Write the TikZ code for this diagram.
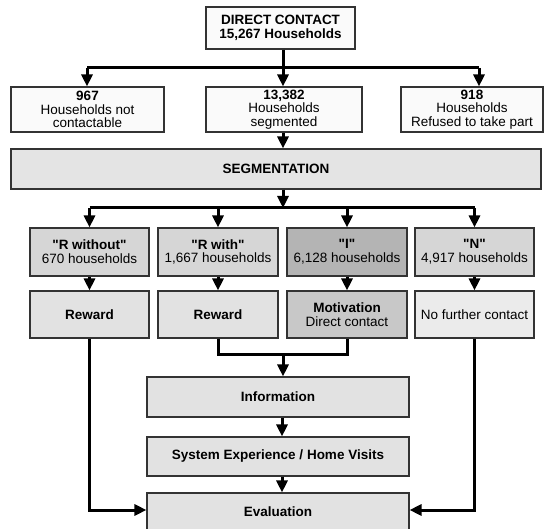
\documentclass[tikz,border=0pt]{standalone}
\usepackage{fontspec}
\setmainfont{Liberation Sans}[Ligatures=TeXOff]
\usetikzlibrary{arrows.meta}
\definecolor{fillwhite}{HTML}{FAFAFA}
\definecolor{fillseg}{HTML}{E4E4E4}
\definecolor{fillgroup}{HTML}{D6D6D6}
\definecolor{filli}{HTML}{B4B4B4}
\definecolor{fillmot}{HTML}{C8C8C8}
\definecolor{fillstep}{HTML}{E2E2E2}
\definecolor{fillnone}{HTML}{EBEBEB}
\definecolor{edge}{HTML}{333333}
\begin{document}
\begin{tikzpicture}[x=1pt,y=-1pt,
  box/.style={draw=edge,line width=1.1pt,rectangle,inner sep=0pt,align=center,
    font=\fontsize{13.5}{13.8}\selectfont},
  flow/.style={line width=3pt,line cap=butt,line join=miter},
  arr/.style={flow,-{Triangle[length=12pt,width=11pt]}}]
\useasboundingbox (0,0) rectangle (544,529);

% top level
\node[box,fill=fillwhite,minimum width=149pt,minimum height=42pt] (top) at (280.5,28)
  {\textbf{DIRECT CONTACT}\\\textbf{15,267 Households}};
\node[box,fill=fillwhite,minimum width=153pt,minimum height=45pt] (nc) at (87.5,109.5)
  {\textbf{967}\\Households not\\contactable};
\node[box,fill=fillwhite,minimum width=156pt,minimum height=45pt] (sg) at (284,109.5)
  {\textbf{13,382}\\Households\\segmented};
\node[box,fill=fillwhite,minimum width=142pt,minimum height=45pt] (rf) at (472,109.5)
  {\textbf{918}\\Households\\Refused to take part};

\node[box,fill=fillseg,minimum width=530pt,minimum height=40pt] (segm) at (276,169)
  {\textbf{SEGMENTATION}};

% segments
\node[box,fill=fillgroup,minimum width=119pt,minimum height=48pt] (rwo) at (89.5,252)
  {\textbf{"R without"}\\670 households};
\node[box,fill=fillgroup,minimum width=120pt,minimum height=48pt] (rwi) at (218,252)
  {\textbf{"R with"}\\1,667 households};
\node[box,fill=filli,minimum width=120pt,minimum height=48pt] (ii) at (347,252)
  {\textbf{"I"}\\6,128 households};
\node[box,fill=fillgroup,minimum width=119pt,minimum height=48pt] (nn) at (474.5,252)
  {\textbf{"N"}\\4,917 households};

% measures
\node[box,fill=fillstep,minimum width=119pt,minimum height=47pt] (rew1) at (89.5,314.5)
  {\textbf{Reward}};
\node[box,fill=fillstep,minimum width=120pt,minimum height=47pt] (rew2) at (218,314.5)
  {\textbf{Reward}};
\node[box,fill=fillmot,minimum width=120pt,minimum height=47pt] (mot) at (347,314.5)
  {\textbf{Motivation}\\Direct contact};
\node[box,fill=fillnone,minimum width=119pt,minimum height=47pt] (nfc) at (474.5,314.5)
  {No further contact};

% later steps
\node[box,fill=fillstep,minimum width=262pt,minimum height=40pt] (info) at (278,397)
  {\textbf{Information}};
\node[box,fill=fillstep,minimum width=262pt,minimum height=39pt] (sys) at (278,456.5)
  {\textbf{System Experience / Home Visits}};
\node[box,fill=fillstep,minimum width=262pt,minimum height=37pt] (eval) at (278,511.5)
  {\textbf{Evaluation}};

% branch points
\coordinate (j1) at (283,68);
\coordinate (j1l) at (87,68);
\coordinate (j1r) at (479,68);
\coordinate (j2) at (283,208);
\coordinate (j3) at (283,355);

% connectors
\draw[flow] (j1l) -- (j1r);
\draw[arr] (top.south -| j1) -- (sg.north -| j1);
\draw[arr] (j1l) -- (nc.north -| j1l);
\draw[arr] (j1r) -- (rf.north -| j1r);
\draw[arr] (sg.south -| j1) -- (segm.north -| j1);

\draw[arr] (segm.south -| j2) -- (j2);
\draw[flow] (j2 -| rwo) -- (j2 -| nn);
\foreach \n in {rwo,rwi,ii,nn}
  \draw[arr] (j2 -| \n) -- (\n.north);

\draw[arr] (rwo.south) -- (rew1.north);
\draw[arr] (rwi.south) -- (rew2.north);
\draw[arr] (ii.south) -- (mot.north);
\draw[arr] (nn.south) -- (nfc.north);

\draw[flow] (rew2.south) |- (j3) -| (mot.south);
\draw[arr] (j3) -- (info.north -| j3);
\draw[arr] (info.south -| 282,0) -- (sys.north -| 282,0);
\draw[arr] (sys.south -| 282,0) -- (eval.north -| 282,0);

\draw[arr] (rew1.south) |- ([yshift=1.5pt]eval.west);
\draw[arr] (nfc.south) |- ([yshift=1.5pt]eval.east);
\end{tikzpicture}
\end{document}
